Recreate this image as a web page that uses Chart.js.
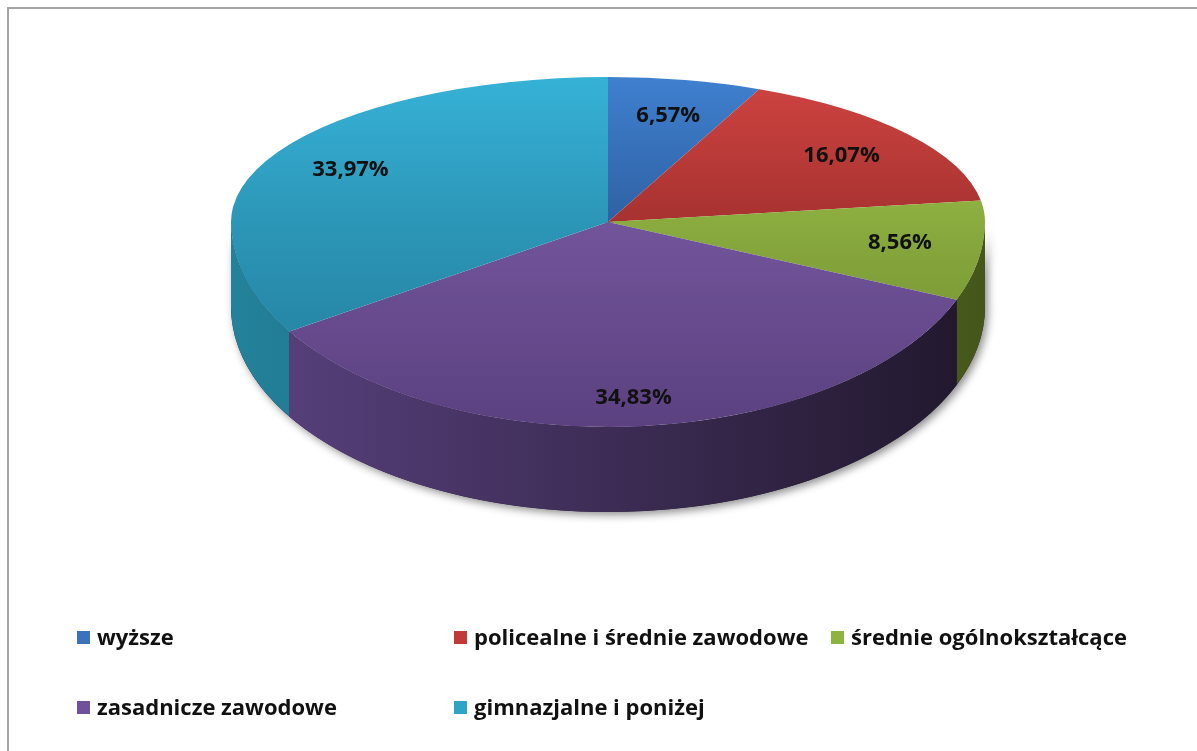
<!DOCTYPE html>
<html>
<head>
<meta charset="utf-8">
<script src="https://cdn.jsdelivr.net/npm/chart.js@4.4.0/dist/chart.umd.min.js"></script>
<style>
  html, body { margin: 0; padding: 0; background: #fff; width: 1197px; height: 751px; overflow: hidden; }
  .frame { position: absolute; left: 7px; top: 7px; width: 1300px; height: 900px; border: 2px solid #a4a4a4; box-sizing: border-box; }
  #pie { position: absolute; left: 0; top: 0; }
  .legend { position: absolute; left: 77px; top: 619px; display: grid; grid-template-columns: 377px 377px 377px; grid-auto-rows: 70px; font: bold 22px "Open Sans", sans-serif; color: #111; }
  .legend div { display: flex; align-items: center; height: 34px; white-space: nowrap; }
  .legend span { display: inline-block; width: 13px; height: 13px; margin-right: 7px; margin-top: 3px; }
</style>
</head>
<body>
<div class="frame"></div>
<canvas id="pie" width="1197" height="751"></canvas>
<div class="legend" id="legend"></div>
<script>
//data
const labels = ['wyższe', 'policealne i średnie zawodowe', 'średnie ogólnokształcące', 'zasadnicze zawodowe', 'gimnazjalne i poniżej'];
const values = [6.57, 16.07, 8.56, 34.83, 33.97];

//colors (top face gradient, side wall gradient, legend)
const faceTop = ['#3f80cf', '#cf4441', '#a9d152', '#8967b6', '#36b2d7'];
const faceBottom = ['#1f4278', '#7e201f', '#6a852b', '#5b4180', '#227a98'];
const wallLeft = ['#2c5a94', '#92302d', '#7e9e36', '#5a4280', '#23829b'];
const wallRight = ['#152a47', '#4a1716', '#44561a', '#20172b', '#0f3d49'];
const legendColors = ['#3a72bb', '#c03a38', '#8db43f', '#70519b', '#2fa4c7'];

//where the flattened pie sits on the page
const CX = 608, CY = 222, RX = 377, RY_BACK = 145, RY_FRONT = 205, DEPTH = 85;

function pct(v) {
  return v.toFixed(2).replace('.', ',') + '%';
}

//3d look: side walls + squashed top faces, labels on top
const pie3d = {
  id: 'pie3d',
  beforeDatasetsDraw(chart) {
    const ctx = chart.ctx;
    const arcs = chart.getDatasetMeta(0).data;

    //shadow under the body
    ctx.save();
    ctx.shadowColor = 'rgba(0,0,0,0.45)';
    ctx.shadowBlur = 9;
    ctx.shadowOffsetX = 3;
    ctx.shadowOffsetY = 3;
    ctx.fillStyle = '#2a1f3a';
    ctx.beginPath();
    ctx.ellipse(CX, CY, RX, RY_FRONT, 0, 0, Math.PI);
    ctx.ellipse(CX, CY + DEPTH, RX, RY_FRONT, 0, Math.PI, 0, true);
    ctx.closePath();
    ctx.fill();
    ctx.restore();

    //side walls, only the front half shows
    arcs.forEach(function (arc, i) {
      const lo = Math.max(arc.startAngle, 0);
      const hi = Math.min(arc.endAngle, Math.PI);
      if (hi <= lo) return;
      const g = ctx.createLinearGradient(CX - RX, 0, CX + RX, 0);
      g.addColorStop(0, wallLeft[i]);
      g.addColorStop(1, wallRight[i]);
      ctx.save();
      ctx.fillStyle = g;
      ctx.beginPath();
      ctx.ellipse(CX, CY, RX, RY_FRONT, 0, lo, hi);
      ctx.ellipse(CX, CY + DEPTH, RX, RY_FRONT, 0, hi, lo, true);
      ctx.closePath();
      ctx.fill();
      ctx.restore();
    });

    //top faces: back half flatter than front half (perspective)
    const halves = [
      { top: 0, h: CY + 1, ry: RY_BACK },
      { top: CY - 1, h: chart.height, ry: RY_FRONT }
    ];
    arcs.forEach(function (arc) {
      const k = RX / arc.outerRadius;
      halves.forEach(function (half) {
        ctx.save();
        ctx.beginPath();
        ctx.rect(0, half.top, chart.width, half.h);
        ctx.clip();
        ctx.translate(CX, CY);
        ctx.scale(k, k * half.ry / RX);
        ctx.translate(-arc.x, -arc.y);
        arc.draw(ctx);
        ctx.restore();
      });
    });
    return false;
  },
  //labels go here: afterDatasetsDraw is skipped when the draw is cancelled
  afterDraw(chart) {
    const ctx = chart.ctx;
    const arcs = chart.getDatasetMeta(0).data;
    ctx.save();
    ctx.font = 'bold 22px "Open Sans"';
    ctx.fillStyle = '#111';
    ctx.textAlign = 'center';
    ctx.textBaseline = 'middle';
    arcs.forEach(function (arc, i) {
      const mid = (arc.startAngle + arc.endAngle) / 2;
      const s = Math.sin(mid);
      const fy = s < 0 ? RY_BACK * 0.75 : RY_FRONT * 0.86;
      const x = CX + RX * 0.78 * Math.cos(mid);
      const y = CY + fy * s;
      ctx.fillText(pct(values[i]), x, y);
    });
    ctx.restore();
  }
};

const chart = new Chart(document.getElementById('pie').getContext('2d'), {
  type: 'pie',
  data: {
    labels: labels,
    datasets: [{
      data: values,
      borderWidth: 0,
      backgroundColor: function (c) {
        const area = c.chart.chartArea;
        if (!area) return legendColors[c.dataIndex];
        const cy = (area.top + area.bottom) / 2;
        const r = Math.min(area.right - area.left, area.bottom - area.top) / 2;
        const g = c.chart.ctx.createLinearGradient(0, cy - r, 0, cy + r);
        g.addColorStop(0, faceTop[c.dataIndex]);
        g.addColorStop(1, faceBottom[c.dataIndex]);
        return g;
      }
    }]
  },
  options: {
    responsive: false,
    animation: false,
    events: [],
    plugins: {
      legend: { display: false },
      tooltip: { enabled: false }
    }
  },
  plugins: [pie3d]
});

//legend in the same grid as the original
const legend = document.getElementById('legend');
labels.forEach(function (name, i) {
  const item = document.createElement('div');
  item.innerHTML = '<span style="background:' + legendColors[i] + '"></span>' + name;
  legend.appendChild(item);
});
</script>
</body>
</html>
